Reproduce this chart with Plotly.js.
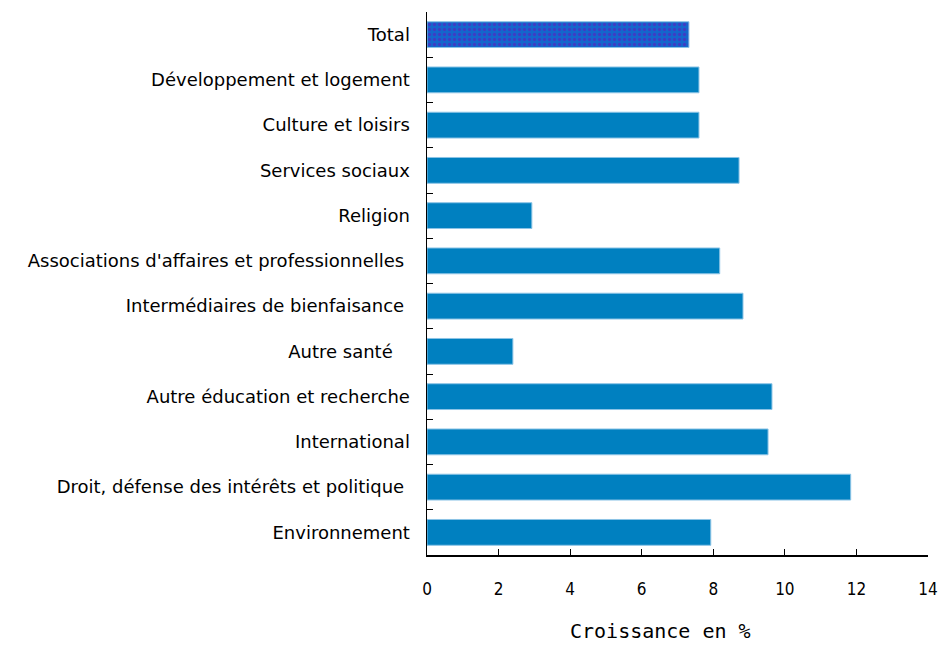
<!DOCTYPE html>
<html><head><meta charset="utf-8">
<script src="https://cdn.plot.ly/plotly-3.0.1.min.js"></script>
<style>html,body{margin:0;padding:0;background:#fff}</style>
</head><body>
<div id="chart" style="width:942px;height:645px"></div>
<script>
const categories = [
  "Total",
  "Développement et logement",
  "Culture et loisirs",
  "Services sociaux",
  "Religion",
  "Associations d'affaires et professionnelles\u00a0",
  "Intermédiaires de bienfaisance\u00a0",
  "Autre santé\u00a0\u00a0\u00a0",
  "Autre éducation et recherche",
  "International",
  "Droit, défense des intérêts et politique\u00a0",
  "Environnement"
];
const growth = [7.32, 7.60, 7.60, 8.72, 2.93, 8.18, 8.83, 2.40, 9.64, 9.53, 11.84, 7.93];
const xTicks = [0, 2, 4, 6, 8, 10, 12, 14];
const xTitle = 'Croissance en %';

const totalCat = [categories[0]], totalVal = [growth[0]];
const restCat = categories.slice(1), restVal = growth.slice(1);

const traces = [
  {type:'bar', orientation:'h', y: restCat, x: restVal,
   marker:{color:'#0080c0', line:{color:'#8cc4e6', width:1}}, width:0.57},
  {type:'bar', orientation:'h', y: totalCat, x: totalVal,
   marker:{color:'#1466cc', line:{color:'#8cc4e6', width:1},
     pattern:{shape:'.', fgcolor:'#3d3dc4', bgcolor:'#1466cc', size:5, solidity:0.35}}, width:0.57}
];

const layout = {
  width:942, height:645,
  margin:{l:427, r:14, t:12, b:90},
  paper_bgcolor:'#fff', plot_bgcolor:'#fff',
  showlegend:false, barmode:'overlay',
  font:{family:'DejaVu Sans, sans-serif', size:18, color:'#000'},
  xaxis:{range:[0,14], tickvals:xTicks, ticks:'inside', ticklen:6, tickcolor:'#000',
    showline:true, linecolor:'#000', linewidth:1.5, showgrid:false, zeroline:false,
    tickfont:{size:17, family:'DejaVu Sans Condensed, Liberation Sans Narrow, sans-serif'},
    ticklabelstandoff:18},
  yaxis:{type:'category', categoryorder:'array', categoryarray:categories,
    range:[11.5,-0.5], ticks:'inside', tickson:'boundaries', ticklen:6, tickcolor:'#000',
    showline:true, linecolor:'#000', linewidth:1.5, showgrid:false, zeroline:false,
    ticklabelstandoff:12, tickfont:{size:18, family:'DejaVu Sans, sans-serif'}},
  annotations:[{text:xTitle, xref:'paper', yref:'paper', x:0.466, y:-0.14,
    xanchor:'center', yanchor:'middle', showarrow:false,
    font:{size:20, family:'DejaVu Sans Mono, monospace', color:'#000'}}]
};
Plotly.newPlot('chart', traces, layout, {displayModeBar:false, staticPlot:true});
</script>
</body></html>
